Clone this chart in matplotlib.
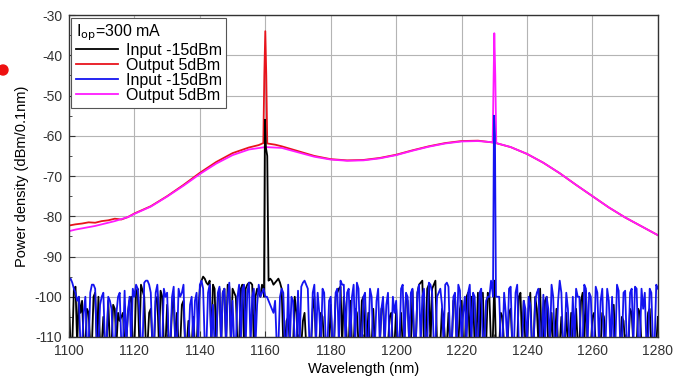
import numpy as np
import matplotlib
matplotlib.use("Agg")
import matplotlib.pyplot as plt
from matplotlib.patches import Circle
from matplotlib.transforms import IdentityTransform
from matplotlib.ticker import MultipleLocator

plt.rcParams['font.family'] = ['Liberation Sans', 'DejaVu Sans']
plt.rcParams['axes.unicode_minus'] = False

# noise floor, read at whole and half nanometres
noise_wl = list(range(1100, 1281))
noise_wl_mid = [w + 0.5 for w in range(1100, 1280)]

blue_noise = [
    -96, -96.5, -99, -100, -112, -100, -112, -97, -98, -112,
    -100, -112, -100, -103, -112, -100, -112, -98.5, -104, -112,
    -100, -98, -112, -96.5, -96, -99, -112, -97, -112, -98,
    -99, -112, -97.5, -112, -100, -97, -112, -102, -112, -99,
    -97, -98, -112, -97, -102, -112, -97.5, -99, -112, -96.5,
    -101, -112, -97, -98, -112, -96.5, -100, -112, -97, -99,
    -100, -101, -103, -101, -112, -98, -112, -97, -100, -112,
    -98.5, -97.5, -96, -98, -112, -97, -99, -112, -99, -112,
    -100, -112, -98, -96, -97, -99, -112, -97, -96.5, -112,
    -100, -112, -98, -112, -101, -112, -100, -102, -112, -100,
    -101, -112, -97, -99, -112, -98, -112, -97, -100, -112,
    -96.5, -99, -112, -99, -102, -97, -97.5, -112, -99, -97,
    -112, -100, -99, -112, -100, -112, -98, -112, -100, -96,
    -100, -100, -112, -99, -112, -97.5, -112, -97, -112, -101,
    -112, -102, -112, -99, -112, -99.5, -100, -112, -100, -112,
    -96, -112, -99, -112, -100, -98, -100, -112, -98, -99,
    -112, -97.5, -112, -98, -112, -101, -100, -112, -98.5, -112,
    -98.5, -112, -98, -97.5, -112, -98, -99, -112, -99, -112,
    -98,
]
blue_noise_mid = [
    -95.5, -98, -101, -112, -104, -112, -99, -97, -112, -102,
    -99, -112, -101, -112, -104, -99, -112, -112, -100, -98,
    -97, -103, -112, -96, -97, -112, -99, -104, -112, -100,
    -112, -100, -112, -98, -99, -112, -112, -100, -101, -112,
    -96, -112, -99, -112, -112, -99, -112, -98, -100, -112,
    -112, -100, -112, -97, -99, -112, -98, -102, -100, -98,
    -100, -102, -104, -112, -100, -99, -112, -112, -101, -112,
    -112, -96.5, -97, -112, -99, -112, -104, -98, -112, -101,
    -112, -99, -112, -97, -112, -98, -100, -112, -98, -112,
    -99, -112, -100, -112, -98, -103, -112, -99, -112, -104,
    -112, -98, -112, -100, -99, -112, -99, -112, -98, -112,
    -97, -112, -100, -98, -112, -96.5, -112, -100, -112, -98.5,
    -104, -112, -97, -99, -112, -99, -112, -101, -100, -99,
    -112, -100, -112, -104, -98, -112, -99, -112, -112, -103,
    -100, -112, -101, -98, -112, -112, -103, -97, -112, -101,
    -99, -112, -103, -112, -112, -100, -112, -97, -112, -100,
    -112, -99, -101, -112, -98, -112, -112, -97, -112, -99,
    -112, -99, -112, -98, -112, -103, -112, -98, -112, -97,
]

black_noise = [
    -102, -112, -97.5, -100, -101, -112, -104, -112, -99, -100,
    -112, -112, -101, -112, -103, -104, -105, -112, -104, -100,
    -112, -98, -97, -100, -112, -103, -112, -100, -98.5, -112,
    -102, -112, -100, -104, -112, -101, -112, -112, -105, -112,
    -98, -95, -96.5, -96, -97, -112, -98, -99, -112, -97.5,
    -98, -100, -112, -97, -98, -96.5, -97, -100, -99, -97,
    -97, -96, -96, -96.5, -95.5, -98, -112, -105, -112, -100,
    -112, -112, -104, -112, -112, -100, -112, -104, -112, -112,
    -102, -112, -99, -97.5, -100, -112, -101, -112, -104, -112,
    -100, -112, -112, -103, -112, -112, -102, -112, -105, -112,
    -103, -112, -112, -100, -112, -98.5, -112, -97, -96, -112,
    -97, -98, -96, -112, -103, -112, -104, -112, -100, -112,
    -101, -112, -99, -100, -112, -99, -99.5, -112, -99, -112,
    -96, -112, -104, -112, -112, -103, -112, -112, -99, -101,
    -112, -99, -112, -103, -98, -112, -100, -112, -112, -103,
    -112, -112, -104, -112, -112, -103, -112, -99, -98.5, -112,
    -105, -112, -112, -104, -112, -112, -103, -112, -112, -105,
    -112, -112, -104, -112, -103, -112, -112, -104, -112, -112,
    -105,
]
black_noise_mid = [
    -112, -98, -112, -104, -112, -103, -112, -100, -112, -112,
    -105, -112, -112, -102, -112, -106, -104, -112, -101, -112,
    -99, -112, -98.5, -112, -104, -112, -101, -112, -100, -112,
    -112, -103, -112, -112, -102, -112, -106, -112, -112, -104,
    -96, -95.5, -97, -112, -98, -100, -112, -98, -97, -112,
    -99, -112, -98, -112, -97, -96.5, -112, -98, -100, -98,
    -80, -95.5, -97, -96, -96.5, -112, -106, -112, -112, -104,
    -112, -106, -112, -112, -103, -112, -112, -105, -112, -112,
    -112, -100, -98, -112, -104, -112, -112, -103, -112, -101,
    -112, -104, -112, -112, -112, -103, -112, -112, -104, -112,
    -112, -104, -112, -101, -112, -112, -99, -96.5, -112, -98,
    -112, -97, -112, -112, -105, -112, -112, -101, -112, -103,
    -112, -100, -112, -100, -112, -112, -99, -112, -100, -112,
    -112, -112, -105, -112, -104, -112, -112, -100, -112, -112,
    -103, -112, -100, -112, -112, -101, -112, -104, -112, -112,
    -105, -112, -112, -104, -112, -112, -101, -112, -112, -112,
    -104, -112, -112, -105, -112, -112, -102, -112, -112, -106,
    -112, -103, -112, -112, -104, -112, -112, -103, -112, -112,
]

# narrow signal peaks of the input traces
black_peak_wl = [1159.6, 1159.9, 1160.2, 1160.6, 1161.0]
black_peak_db = [-100, -56, -63, -65, -96]
blue_peak_wl = [1229.6, 1229.9, 1230.2, 1230.5]
blue_peak_db = [-100, -55, -60, -100]

# amplified output spectra
red_wl = [1100, 1102, 1104, 1106, 1108, 1110, 1112, 1114, 1116, 1118,
          1120, 1125, 1130, 1135, 1140, 1145, 1150, 1155, 1158,
          1159.4, 1159.7, 1160.0, 1160.3, 1160.6,
          1163, 1165, 1170, 1175, 1180, 1185, 1190, 1195, 1200, 1205,
          1210, 1215, 1220, 1225, 1230, 1235, 1240, 1245, 1250, 1255,
          1260, 1265, 1270, 1275, 1280]
red_db = [-82.3, -82.0, -81.8, -81.5, -81.6, -81.2, -81.0, -80.6, -80.8, -80.2,
          -79.3, -77.5, -75.0, -72.2, -69.2, -66.5, -64.3, -62.9, -62.3,
          -61.8, -45, -34, -45, -61.9,
          -62.2, -62.6, -63.8, -65.0, -65.8, -66.1, -66.0, -65.5, -64.7, -63.6,
          -62.6, -61.8, -61.3, -61.2, -61.7, -62.8, -64.5, -66.7, -69.3, -72.2,
          -75.0, -77.8, -80.3, -82.5, -84.7]

mag_wl = [1100, 1102, 1104, 1106, 1108, 1110, 1112, 1114, 1116, 1118,
          1120, 1125, 1130, 1135, 1140, 1145, 1150, 1155, 1160, 1165,
          1170, 1175, 1180, 1185, 1190, 1195, 1200, 1205, 1210, 1215,
          1220, 1225, 1228, 1229.5, 1229.8, 1230.0, 1230.3, 1230.6,
          1235, 1240, 1245, 1250, 1255, 1260, 1265, 1270, 1275, 1280]
mag_db = [-83.7, -83.3, -83.0, -82.7, -82.4, -82.0, -81.6, -81.2, -80.7, -80.2,
          -79.4, -77.6, -75.1, -72.4, -69.5, -66.9, -64.8, -63.4, -62.8, -63.0,
          -64.1, -65.2, -65.9, -66.2, -66.1, -65.6, -64.8, -63.7, -62.7, -61.9,
          -61.4, -61.3, -61.5, -61.6, -45, -34.5, -45, -61.8,
          -62.8, -64.5, -66.7, -69.3, -72.2, -75.0, -77.8, -80.3, -82.5, -84.7]


def merge(wl, db, pk_wl, pk_db):
    x = np.array(list(wl), dtype=float)
    y = np.array(list(db), dtype=float)
    # drop noise points that fall inside the peak window
    keep = (x < min(pk_wl) - 0.01) | (x > max(pk_wl) + 0.01)
    x = np.concatenate([x[keep], pk_wl])
    y = np.concatenate([y[keep], pk_db])
    order = np.argsort(x)
    return x[order], y[order]


bx, by = merge(noise_wl + noise_wl_mid, black_noise + black_noise_mid,
               black_peak_wl, black_peak_db)
ux, uy = merge(noise_wl + noise_wl_mid, blue_noise + blue_noise_mid,
               blue_peak_wl, blue_peak_db)

fig = plt.figure(figsize=(6.92, 3.78), dpi=100)
ax = fig.add_axes([0.0997, 0.1085, 0.851, 0.8515])

lw = 1.3
l_red, = ax.plot(red_wl, red_db, color='#e8141c', lw=lw)
l_mag, = ax.plot(mag_wl, mag_db, color='#ff1aff', lw=lw)
l_blk, = ax.plot(bx, by, color='black', lw=lw)
l_blu, = ax.plot(ux, uy, color='#1414f0', lw=lw)

ax.set_xlim(1100, 1280)
ax.set_ylim(-110, -30)
ax.xaxis.set_major_locator(MultipleLocator(20))
ax.xaxis.set_minor_locator(MultipleLocator(10))
ax.yaxis.set_major_locator(MultipleLocator(10))
ax.yaxis.set_minor_locator(MultipleLocator(5))
ax.tick_params(which='both', direction='in', labelsize=10, colors='#333333')
ax.tick_params(which='major', length=4, pad=5)
ax.tick_params(which='minor', length=2)
ax.grid(True, which='major', color='#b4b4b4', lw=0.8)
for s in ax.spines.values():
    s.set_color('#333333')
    s.set_linewidth(1.0)

ax.set_xlabel('Wavelength (nm)', fontsize=10.5, labelpad=3)
ax.set_ylabel('Power density (dBm/0.1nm)', fontsize=10.5, labelpad=4)

leg = ax.legend([l_blk, l_red, l_blu, l_mag],
                ['Input -15dBm', 'Output 5dBm', 'Input -15dBm', 'Output 5dBm'],
                title=r'I$_{\rm op}$=300 mA', loc='upper left', fontsize=11.5,
                title_fontsize=11.5, fancybox=False, framealpha=1,
                edgecolor='#555555', borderaxespad=0.15, handlelength=2.6,
                labelspacing=0.0, borderpad=0.3, handletextpad=0.5)
leg._legend_box.align = 'left'
leg.get_frame().set_linewidth(0.8)

fig.patches.append(Circle((3, 378 - 70), 5, transform=IdentityTransform(),
                          color='#ee1111', zorder=5))

fig.savefig('out.png', dpi=100)
